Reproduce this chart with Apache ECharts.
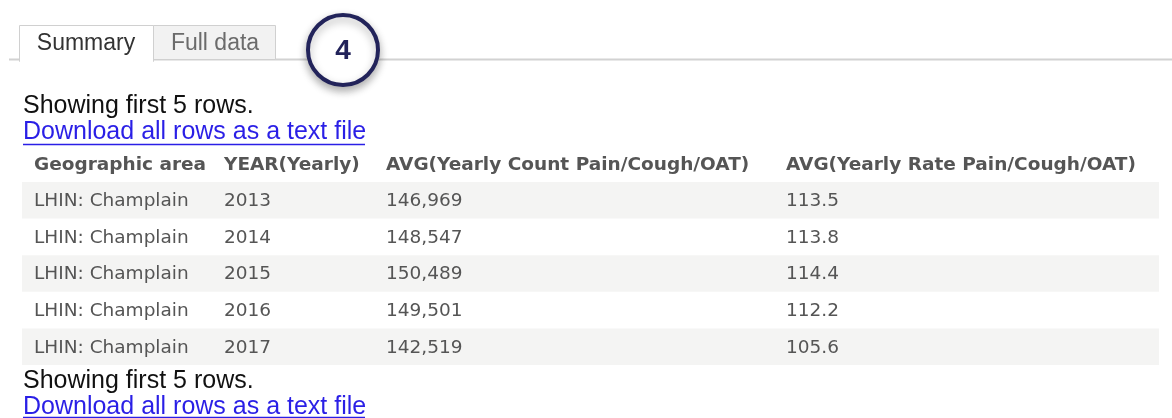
<!DOCTYPE html>
<html>
<head>
<meta charset="utf-8">
<script src="https://cdn.jsdelivr.net/npm/echarts@6/dist/echarts.min.js"></script>
<style>
  html, body { margin: 0; padding: 0; background: #fff; }
  #chart { width: 1172px; height: 418px; }
</style>
</head>
<body>
<div id="chart"></div>
<script>
// table data
const headers = ["Geographic area", "YEAR(Yearly)", "AVG(Yearly Count Pain/Cough/OAT)", "AVG(Yearly Rate Pain/Cough/OAT)"];
const areas = ["LHIN: Champlain", "LHIN: Champlain", "LHIN: Champlain", "LHIN: Champlain", "LHIN: Champlain"];
const years = ["2013", "2014", "2015", "2016", "2017"];
const counts = [146969, 148547, 150489, 149501, 142519];
const rates = [113.5, 113.8, 114.4, 112.2, 105.6];

const tabs = ["Summary", "Full data"];
const noteText = "Showing first 5 rows.";
const linkText = "Download all rows as a text file";

const colX = [34, 224, 386, 786];
const cellFont = "'DejaVu Sans', Verdana, sans-serif";
const linkFont = "'Liberation Sans', Helvetica, Arial, sans-serif";

const chart = echarts.init(document.getElementById("chart"));

function fmtCount(v) {
  return v.toLocaleString("en-US");
}

const option = {
  backgroundColor: "#fff",
  animation: false,
  grid: { left: 22, top: 182, width: 1137, height: 183 },
  xAxis: { type: "value", min: 0, max: 1, show: false },
  yAxis: { type: "category", data: years, inverse: true, show: false },
  series: [{
    type: "custom",
    data: years.map((y, i) => [i]),
    renderItem: function (params, api) {
      const i = api.value(0);
      const c = api.coord([0, i]);
      const s = api.size([1, 1]);
      const top = c[1] - s[1] / 2;
      const cells = [areas[i], years[i], fmtCount(counts[i]), rates[i].toFixed(1)];
      const children = [];
      // striped rows
      if (i % 2 === 0) {
        children.push({
          type: "rect",
          shape: { x: c[0], y: top, width: s[0], height: s[1] },
          style: { fill: "#f4f4f3" }
        });
      }
      cells.forEach((t, k) => {
        children.push({
          type: "text",
          x: colX[k], y: c[1] + 1,
          style: { text: t, fill: "#555", font: "18.5px " + cellFont, textVerticalAlign: "middle" }
        });
      });
      return { type: "group", children: children };
    }
  }],
  graphic: [
    // tab bar line
    { type: "line", shape: { x1: 9, y1: 59.5, x2: 1172, y2: 59.5 }, style: { stroke: "#d2d2d2", lineWidth: 2 } },
    // full data tab
    { type: "rect", shape: { x: 153.5, y: 25.5, width: 122, height: 34 }, style: { fill: "#f2f2f2", stroke: "#d0d0d0", lineWidth: 1 } },
    // summary tab (active)
    { type: "rect", shape: { x: 19.5, y: 25.5, width: 134, height: 36 }, style: { fill: "#fff", stroke: "#d0d0d0", lineWidth: 1 } },
    { type: "rect", shape: { x: 20, y: 57, width: 133, height: 6 }, style: { fill: "#fff" } },
    { type: "text", x: 86, y: 44, style: { text: tabs[0], fill: "#333", font: "23px " + linkFont, textAlign: "center", textVerticalAlign: "middle" } },
    { type: "text", x: 215, y: 44, style: { text: tabs[1], fill: "#6b6b6b", font: "23px " + linkFont, textAlign: "center", textVerticalAlign: "middle" } },
    // numbered circle
    {
      type: "circle", shape: { cx: 343, cy: 50, r: 35 },
      style: { fill: "#fff", stroke: "#22235a", lineWidth: 4, shadowBlur: 8, shadowOffsetY: 4, shadowColor: "rgba(0,0,0,0.3)" }
    },
    { type: "text", x: 343, y: 51, style: { text: "4", fill: "#22235a", font: "bold 28px " + linkFont, textAlign: "center", textVerticalAlign: "middle" } },
    // notes above table
    { type: "text", x: 23, y: 106, style: { text: noteText, fill: "#111", font: "25px " + linkFont, textVerticalAlign: "middle" } },
    { type: "text", x: 23, y: 132, style: { text: linkText, fill: "#2a1fe6", font: "25px " + linkFont, textVerticalAlign: "middle" } },
    { type: "line", shape: { x1: 23, y1: 144.5, x2: 365, y2: 144.5 }, style: { stroke: "#2a1fe6", lineWidth: 1.5 } },
    // headers
    ...headers.map((h, k) => ({
      type: "text", x: colX[k], y: 165,
      style: { text: h, fill: "#555", font: "bold 18.5px " + cellFont, textVerticalAlign: "middle" }
    })),
    // notes below table
    { type: "text", x: 23, y: 381, style: { text: noteText, fill: "#111", font: "25px " + linkFont, textVerticalAlign: "middle" } },
    { type: "text", x: 23, y: 407, style: { text: linkText, fill: "#2a1fe6", font: "25px " + linkFont, textVerticalAlign: "middle" } },
    { type: "line", shape: { x1: 23, y1: 417.5, x2: 365, y2: 417.5 }, style: { stroke: "#2a1fe6", lineWidth: 1.5 } }
  ]
};

chart.setOption(option);
</script>
</body>
</html>
